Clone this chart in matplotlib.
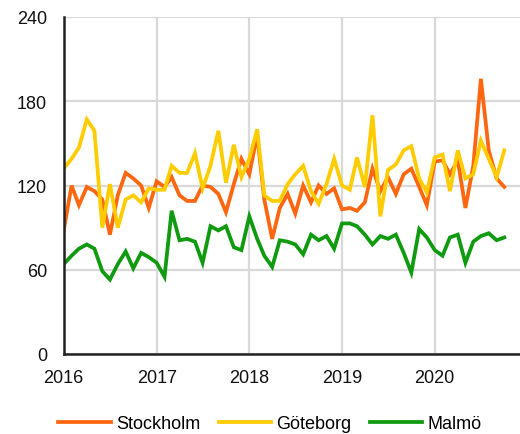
import matplotlib
matplotlib.use("Agg")
from matplotlib import pyplot as plt
import pandas as pd

plt.rcParams["font.family"] = ["Liberation Sans", "DejaVu Sans"]

months = pd.date_range("2016-01-01", periods=58, freq="MS")

stockholm = [
    88, 120, 106, 119, 116, 110, 85, 113, 129, 125, 120, 104,
    123, 119, 126, 113, 109, 109, 120, 119, 114, 101, 121, 139,
    128, 156, 110, 82, 104, 114, 100, 120, 108, 120, 114, 118,
    103, 104, 102, 108, 132, 116, 126, 114, 128, 132, 119, 106,
    137, 138, 128, 138, 104, 134, 196, 145, 125, 119,
]
goteborg = [
    132, 139, 147, 167, 159, 90, 121, 90, 110, 113, 108, 118,
    117, 117, 134, 129, 129, 143, 118, 134, 159, 122, 149, 126,
    139, 160, 113, 109, 109, 121, 128, 134, 116, 107, 121, 139,
    120, 117, 140, 119, 170, 98, 131, 135, 145, 148, 125, 115,
    140, 142, 116, 145, 125, 128, 152, 139, 126, 145,
]
malmo = [
    64, 70, 75, 78, 75, 59, 53, 64, 73, 61, 72, 69,
    65, 55, 102, 81, 82, 80, 65, 91, 88, 91, 76, 74,
    98, 82, 70, 62, 81, 80, 78, 71, 85, 81, 84, 75,
    93, 93, 91, 85, 78, 84, 82, 85, 72, 58, 89, 83,
    74, 70, 83, 85, 65, 80, 84, 86, 81, 83,
]

names = ["Stockholm", "Göteborg", "Malmö"]
colors = ["#ff6610", "#ffcc00", "#109a10"]
years = pd.to_datetime(["2016-01-01", "2017-01-01", "2018-01-01", "2019-01-01", "2020-01-01"])
year_labels = ["2016", "2017", "2018", "2019", "2020"]

fig = plt.figure(figsize=(5.2, 4.35), dpi=100)
ax = fig.add_axes([63.7 / 520, 1 - 355 / 435, (520 - 63.7) / 520, (355 - 18) / 435])

for vals, name, c in zip([stockholm, goteborg, malmo], names, colors):
    ax.plot(months, vals, color=c, lw=2.7, label=name, solid_joinstyle="miter")

ax.set_ylim(0, 240)
ax.set_yticks([0, 60, 120, 180, 240])
ax.set_xlim(pd.Timestamp("2016-01-01"), pd.Timestamp("2020-12-02"))
ax.set_xticks(years)
ax.set_xticklabels(year_labels)

ax.grid(True, color="#d9d9d9", lw=1.6)
ax.set_axisbelow(True)
for s in ["top", "right"]:
    ax.spines[s].set_visible(False)
for s in ["left", "bottom"]:
    ax.spines[s].set_linewidth(1.8)
    ax.spines[s].set_color("#222222")
ax.tick_params(length=0, labelsize=13, colors="#111111")
ax.tick_params(axis="y", pad=12)
ax.tick_params(axis="x", pad=11)

ax.legend(loc="upper center", bbox_to_anchor=(0.452, -0.133), ncol=3, frameon=False,
          fontsize=13, handlelength=2.9, handletextpad=0.3, columnspacing=1.0)

fig.savefig("out.png", dpi=100)
